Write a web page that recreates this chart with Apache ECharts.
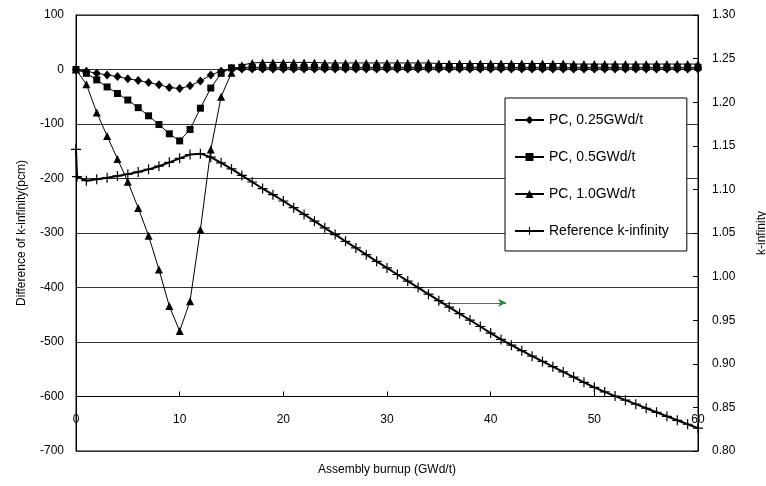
<!DOCTYPE html>
<html>
<head>
<meta charset="utf-8">
<script src="https://cdn.jsdelivr.net/npm/echarts@6/dist/echarts.min.js"></script>
<style>
html,body{margin:0;padding:0;background:#fff;}
#chart{width:766px;height:486px;}
</style>
</head>
<body>
<div id="chart"></div>
<script>
// ---- data ----
var burnupPC = [0,1,2,3,4,5,6,7,8,9,10,11,12,13,14,15,16,17,18,19,20,21,22,23,24,25,26,27,28,29,30,31,32,33,34,35,36,37,38,39,40,41,42,43,44,45,46,47,48,49,50,51,52,53,54,55,56,57,58,59,60];
var pc025 = [0,-3,-7,-10,-13,-17,-20,-24,-28,-33,-35,-30,-21,-10,-3,2,1,1,1,1,1,1,1,1,1,1,1,1,1,1,1,1,1,1,1,1,1,1,1,1,1,1,1,1,1,1,1,1,1,1,1,1,1,1,1,1,1,1,1,1,1];
var pc05 = [0,-7,-19,-32,-44,-56,-70,-85,-101,-118,-131,-110,-71,-34,-7,3,4,4,4,4,4,4,4,4,4,4,4,4,4,4,4,4,4,4,4,4,4,4,4,4,4,4,4,4,4,4,4,4,4,4,4,4,4,4,4,4,4,4,4,4,4];
var pc10 = [0,-27,-79,-122,-164,-206,-254,-305,-367,-434,-480,-425,-294,-147,-50,-6,8,12,13,13,13,13,13,13,12,12,12,12,12,12,12,12,12,12,12,11,11,11,11,11,11,11,11,11,11,11,11,11,10,10,10,10,10,10,10,10,10,10,10,10,10];
var burnupRef = [0,0.1,1,2,3,4,5,6,7,8,9,10,11,12,13,14,15,16,17,18,19,20,21,22,23,24,25,26,27,28,29,30,31,32,33,34,35,36,37,38,39,40,41,42,43,44,45,46,47,48,49,50,51,52,53,54,55,56,57,58,59,60];
var kRef = [1.146,1.1146,1.110,1.1116,1.1134,1.1154,1.1175,1.1200,1.1230,1.1266,1.1310,1.1356,1.1400,1.1410,1.1370,1.1305,1.1235,1.1160,1.1085,1.1010,1.0940,1.0867,1.0790,1.0713,1.0636,1.0559,1.0482,1.0405,1.0329,1.0252,1.0175,1.0099,1.0024,0.9949,0.9874,0.9799,0.9724,0.9650,0.9576,0.9502,0.9428,0.9352,0.9280,0.9214,0.9150,0.9088,0.9027,0.8967,0.8907,0.8848,0.8788,0.8730,0.8678,0.8630,0.8583,0.8537,0.8490,0.8444,0.8398,0.8352,0.8307,0.8262];
var seriesNames = ['PC, 0.25GWd/t','PC, 0.5GWd/t','PC, 1.0GWd/t','Reference k-infinity'];
var xTitle = 'Assembly burnup (GWd/t)';
var yLeftTitle = 'Difference of k-infinity(pcm)';
var yRightTitle = 'k-infinity';

function pairs(xs, ys){ return xs.map(function(x,i){ return [x, ys[i]]; }); }

var chart = echarts.init(document.getElementById('chart'), null, {renderer:'canvas'});
var gridTop = 15, gridBottom = 35;
var gridH = 486 - gridTop - gridBottom;
var font = 'Liberation Sans, Arial, sans-serif';
var crossPath = 'path://M4.4,0h1.2v10h-1.2zM0,4.4h10v1.2h-10z';

chart.setOption({
  animation:false,
  backgroundColor:'#fff',
  textStyle:{fontFamily:font},
  grid:{left:76, right:68, top:gridTop, bottom:gridBottom, show:true, borderColor:'#000', borderWidth:1,
        backgroundColor:'transparent', containLabel:false, outerBoundsMode:'none'},
  legend:{
    orient:'vertical', left:505, top:98,
    padding:[14,18,12,9], itemGap:21, itemWidth:29, itemHeight:10,
    borderColor:'#000', borderWidth:1, backgroundColor:'#fff',
    textStyle:{fontFamily:font, fontSize:14, color:'#000', lineHeight:16},
    data:seriesNames
  },
  xAxis:{
    type:'value', min:0, max:60, interval:10,
    offset:-gridH/8,
    name:xTitle, nameLocation:'middle', nameGap:67,
    nameTextStyle:{fontSize:12, color:'#000', fontFamily:font},
    axisLine:{onZero:false, lineStyle:{color:'#000', width:1}},
    axisTick:{inside:true, length:5, lineStyle:{color:'#000'}},
    axisLabel:{color:'#000', fontSize:12, margin:17, fontFamily:font},
    splitLine:{show:false}
  },
  yAxis:[{
    type:'value', min:-700, max:100, interval:100, position:'left',
    name:yLeftTitle, nameLocation:'middle', nameGap:48, nameRotate:90,
    nameTextStyle:{fontSize:12, color:'#000', fontFamily:font},
    axisLine:{show:true, lineStyle:{color:'#000'}},
    axisTick:{show:false},
    axisLabel:{color:'#000', fontSize:12, margin:12, fontFamily:font},
    splitLine:{show:true, lineStyle:{color:'#333', width:1}}
  },{
    type:'value', min:0.8, max:1.3, interval:0.05, position:'right',
    name:yRightTitle, nameLocation:'middle', nameGap:58, nameRotate:90,
    nameTextStyle:{fontSize:12, color:'#000', fontFamily:font},
    axisLine:{show:true, lineStyle:{color:'#000'}},
    axisTick:{show:true, inside:true, length:5, lineStyle:{color:'#000'}},
    axisLabel:{color:'#000', fontSize:12, margin:14, fontFamily:font, formatter:function(v){return v.toFixed(2);}},
    splitLine:{show:false}
  }],
  series:[
    {name:seriesNames[0], type:'line', yAxisIndex:0, data:pairs(burnupPC, pc025),
     symbol:'diamond', symbolSize:[8,9], showAllSymbol:true,
     lineStyle:{color:'#000', width:1}, itemStyle:{color:'#000'}, z:4},
    {name:seriesNames[1], type:'line', yAxisIndex:0, data:pairs(burnupPC, pc05),
     symbol:'rect', symbolSize:7, showAllSymbol:true,
     lineStyle:{color:'#000', width:1}, itemStyle:{color:'#000'}, z:3},
    {name:seriesNames[2], type:'line', yAxisIndex:0, data:pairs(burnupPC, pc10),
     symbol:'triangle', symbolSize:8, showAllSymbol:true,
     lineStyle:{color:'#000', width:1}, itemStyle:{color:'#000'}, z:2},
    {name:seriesNames[3], type:'line', yAxisIndex:1, data:pairs(burnupRef, kRef),
     symbol:crossPath, symbolSize:10, showAllSymbol:true,
     lineStyle:{color:'#000', width:2}, itemStyle:{color:'#000'}, z:5,
     markLine:{silent:true, symbol:['none','arrow'], symbolSize:[6,8],
       label:{show:false},
       lineStyle:{color:'#2a8a3a', width:1, type:'solid'},
       data:[[{coord:[35, 0.97]},{coord:[41.5, 0.97]}]]}}
  ]
});
</script>
</body>
</html>
